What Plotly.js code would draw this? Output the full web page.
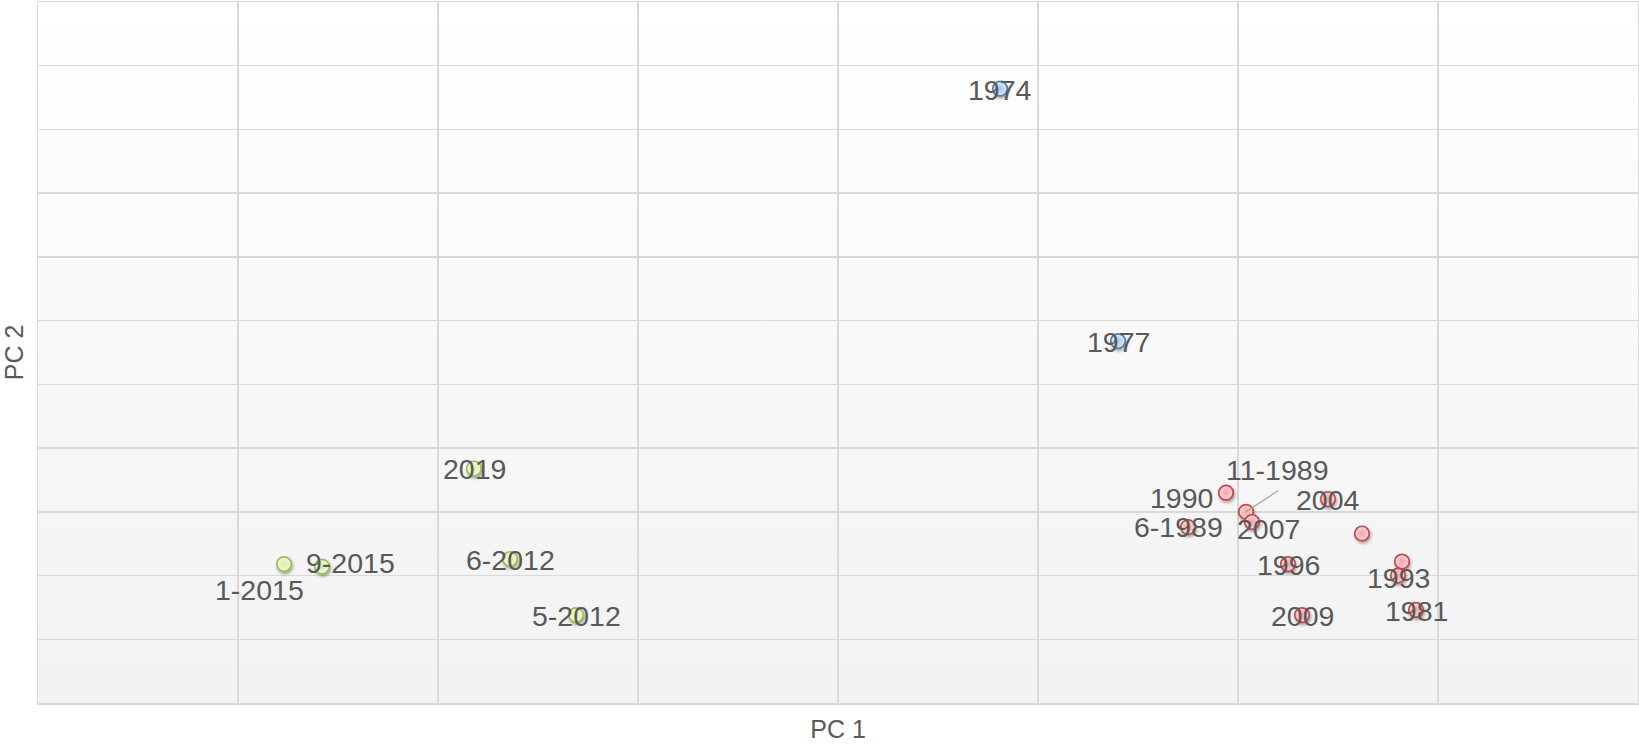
<!DOCTYPE html>
<html>
<head>
<meta charset="utf-8">
<script src="https://cdn.plot.ly/plotly-3.0.1.min.js"></script>
<style>
  html, body { margin: 0; padding: 0; background: #ffffff; }
  #chart { width: 1639px; height: 745px; }
  #chart .scatterlayer path.point { filter: drop-shadow(1px 2px 1.5px rgba(0,0,0,0.35)); }
</style>
</head>
<body>
<div id="chart"></div>
<script>
// ---- data (PC scores) ----
const blueLabels = ['1974', '1977'];
const blueX = [0.81, 1.40];
const blueY = [2.32, 0.34];

const greenLabels = ['2019', '1-2015', '9-2015', '6-2012', '5-2012'];
const greenX = [-1.82, -2.77, -2.58, -1.64, -1.31];
const greenY = [-0.66, -1.41, -1.43, -1.37, -1.81];

const redLabels = ['1990', '11-1989', '2007', '6-1989', '2004', '', '1996', '', '1993', '2009', '1981'];
const redX = [1.94, 2.04, 2.07, 1.75, 2.45, 2.62, 2.25, 2.82, 2.80, 2.32, 2.89];
const redY = [-0.85, -1.00, -1.08, -1.12, -0.90, -1.17, -1.41, -1.39, -1.50, -1.81, -1.77];

// ---- label placement (pixel offsets from the point) ----
const labelShift = {
  '1990': [-45, -5],
  '6-1989': [-10, 0],
  '2007': [16, -7],
  '11-1989': [31, 42],
  '1-2015': [-25, -26],
  '9-2015': [28, 4],
  '1993': [0, -2]
};
const leaderLines = { '11-1989': [32, 21] };

const labelFont = { family: 'Liberation Sans, Arial, sans-serif', size: 28.5, color: '#595959' };

function markerStyle(fill, edge, line) {
  return {
    size: 14.5,
    color: fill,
    gradient: { type: 'radial', color: edge },
    line: { color: line, width: 1.7 }
  };
}

const traces = [
  { x: redX, y: redY, type: 'scatter', mode: 'markers', name: 'red', hoverinfo: 'text', text: redLabels,
    marker: markerStyle('#fbd6d6', '#f0a4a4', '#c9484a') },
  { x: greenX, y: greenY, type: 'scatter', mode: 'markers', name: 'green', hoverinfo: 'text', text: greenLabels,
    marker: markerStyle('#f2fadc', '#d9eda8', '#9cc250') },
  { x: blueX, y: blueY, type: 'scatter', mode: 'markers', name: 'blue', hoverinfo: 'text', text: blueLabels,
    marker: markerStyle('#e0ebfa', '#a8c3ec', '#4f81bd') }
];

const annotations = [];
const shapes = [];
function addLabels(xs, ys, labels) {
  labels.forEach(function (lab, i) {
    if (!lab) return;
    const s = labelShift[lab] || [0, -1];
    annotations.push({
      x: xs[i], y: ys[i], xref: 'x', yref: 'y', text: lab, showarrow: false,
      xshift: s[0], yshift: s[1], font: labelFont, xanchor: 'center', yanchor: 'middle'
    });
    if (leaderLines[lab]) {
      const l = leaderLines[lab];
      shapes.push({
        type: 'line', xref: 'x', yref: 'y',
        xsizemode: 'pixel', ysizemode: 'pixel',
        xanchor: xs[i], yanchor: ys[i],
        x0: 0, y0: 0, x1: l[0], y1: l[1],
        line: { color: '#a6a6a6', width: 1.3 }, layer: 'above'
      });
    }
  });
}
addLabels(redX, redY, redLabels);
addLabels(greenX, greenY, greenLabels);
addLabels(blueX, blueY, blueLabels);

const gradientSvg = "<svg xmlns='http://www.w3.org/2000/svg' width='10' height='100' preserveAspectRatio='none'>" +
  "<defs><linearGradient id='g' x1='0' y1='0' x2='0' y2='1'>" +
  "<stop offset='0' stop-color='#ffffff'/><stop offset='1' stop-color='#f2f2f2'/>" +
  "</linearGradient></defs><rect width='10' height='100' fill='url(#g)'/></svg>";

const axisCommon = {
  showticklabels: false, ticks: '', zeroline: false,
  showgrid: true, gridcolor: '#d9d9d9', gridwidth: 1.5,
  showline: true, linecolor: '#d9d9d9', linewidth: 1.5, mirror: true,
  fixedrange: true
};

const layout = {
  width: 1639, height: 745,
  margin: { l: 38, r: 1, t: 2, b: 42 },
  paper_bgcolor: '#ffffff',
  plot_bgcolor: 'rgba(0,0,0,0)',
  showlegend: false,
  xaxis: Object.assign({}, axisCommon, {
    range: [-4, 4], dtick: 1, tick0: 0,
    title: { text: 'PC 1', font: { family: 'Liberation Sans, Arial, sans-serif', size: 25, color: '#595959' }, standoff: 17 }
  }),
  yaxis: Object.assign({}, axisCommon, {
    range: [-2.5, 3], dtick: 0.5, tick0: 0,
    title: { text: 'PC 2', font: { family: 'Liberation Sans, Arial, sans-serif', size: 25, color: '#595959' }, standoff: 8 }
  }),
  images: [{
    source: 'data:image/svg+xml;charset=utf-8,' + encodeURIComponent(gradientSvg),
    xref: 'paper', yref: 'paper', x: 0, y: 1, sizex: 1, sizey: 1,
    sizing: 'stretch', layer: 'below', xanchor: 'left', yanchor: 'top'
  }],
  annotations: annotations,
  shapes: shapes
};

Plotly.newPlot('chart', traces, layout, { displayModeBar: false, staticPlot: true });
</script>
</body>
</html>
